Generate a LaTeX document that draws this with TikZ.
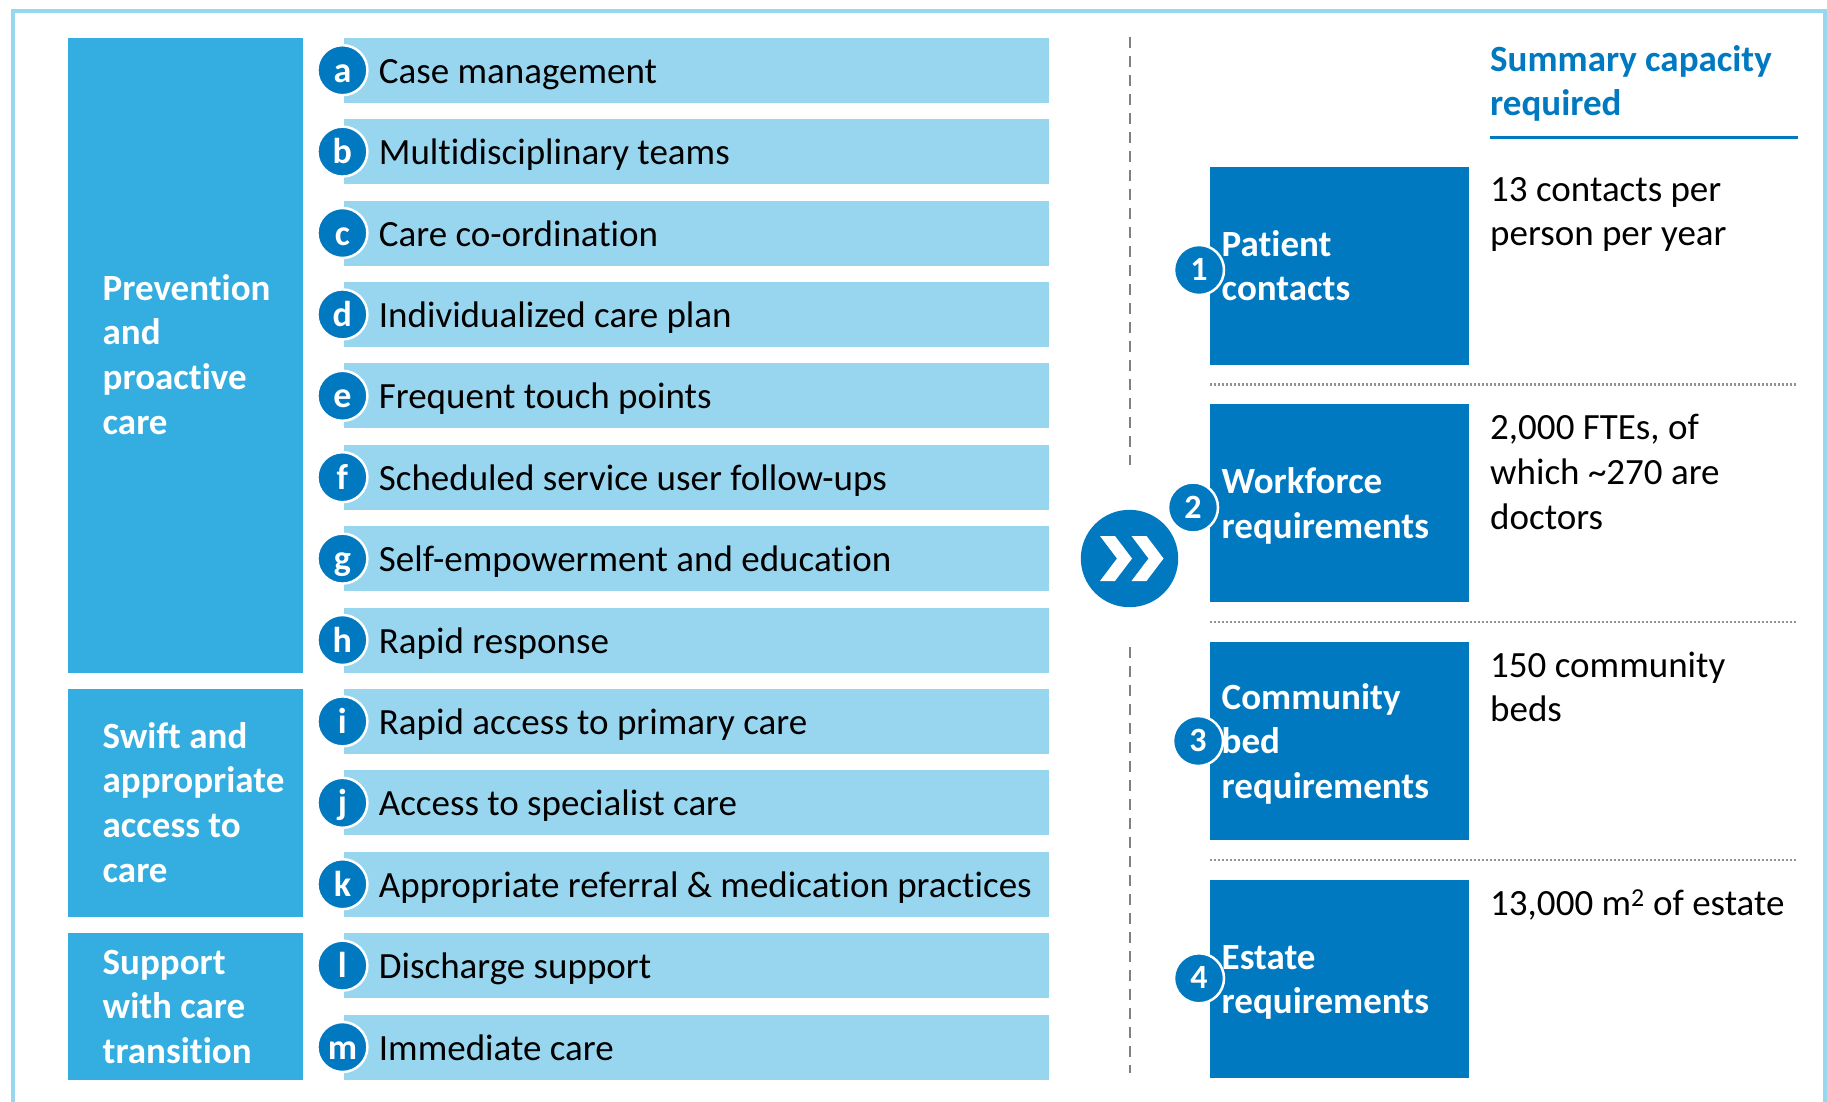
\documentclass[tikz,border=0pt]{standalone}
\usepackage{fontspec}
\setmainfont{Carlito}[Ligatures=NoCommon]
\definecolor{frameblue}{RGB}{152,215,240}
\definecolor{barblue}{RGB}{152,214,240}
\definecolor{catblue}{RGB}{52,173,224}
\definecolor{deepblue}{RGB}{0,121,193}
\definecolor{rulegray}{RGB}{128,128,128}
\newcommand\lnstrut{\rule{0pt}{30pt}}
\begin{document}
\begin{tikzpicture}[x=1pt,y=-1pt,
  bigtext/.style={font=\fontsize{37}{44.7}\selectfont},
  bar/.style={rectangle,fill=barblue,draw=none,inner sep=0pt,minimum width=705pt,minimum height=65pt},
  catbox/.style={rectangle,fill=catblue,draw=none,inner sep=0pt,minimum width=235pt},
  capbox/.style={rectangle,fill=deepblue,draw=none,inner sep=0pt,minimum width=259pt,minimum height=198pt},
  letterdot/.style={circle,fill=deepblue,draw=white,line width=2.5pt,minimum size=50pt,inner sep=0pt,
    text=white,font=\bfseries\fontsize{36}{42}\selectfont,text height=24pt,text depth=0pt},
  numdot/.style={circle,fill=deepblue,draw=white,line width=2.5pt,minimum size=50pt,inner sep=0pt,
    text=white,font=\bfseries\fontsize{34}{40}\selectfont,text height=21pt,text depth=0pt},
  itemtext/.style={bigtext,anchor=base west,inner sep=0pt,text=black},
  whitelabel/.style={font=\bfseries\fontsize{37}{44.7}\selectfont,text=white,anchor=north west,inner sep=0pt,align=left},
  valuetext/.style={bigtext,text=black,anchor=north west,inner sep=0pt,align=left},
  divider/.style={rulegray,line width=2pt,dash pattern=on 11pt off 8pt},
  separator/.style={rulegray!85,line width=2.5pt,dash pattern=on 2pt off 2pt},
]
\useasboundingbox (0,0) rectangle (1827,1102);
\clip (0,0) rectangle (1827,1102);

% outer frame, open at the bottom
\draw[frameblue,line width=4pt] (12.5,1110) -- (12.5,11.3) -- (1824.5,11.3) -- (1824.5,1110);

% category blocks on the left
\node[catbox,minimum height=634.8pt] (cat1) at (185.45,355.1) {};
\node[catbox,minimum height=227.8pt] (cat2) at (185.45,802.8) {};
\node[catbox,minimum height=146.4pt] (cat3) at (185.45,1006.3) {};
\node[whitelabel] (cat1-txt) at (102.5,270) {\lnstrut Prevention\\and\\proactive\\care};
\node[whitelabel] (cat2-txt) at (102.5,718) {\lnstrut Swift and\\appropriate\\access to\\care};
\node[whitelabel] (cat3-txt) at (102.5,944) {\lnstrut Support\\with care\\transition};

% lettered care components
\foreach \l/\t [count=\i from 0] in {
  a/Case management,
  b/Multidisciplinary teams,
  c/Care co-ordination,
  d/Individualized care plan,
  e/Frequent touch points,
  f/Scheduled service user follow-ups,
  g/Self-empowerment and education,
  h/Rapid response,
  i/Rapid access to primary care,
  j/Access to specialist care,
  k/Appropriate referral \& medication practices,
  l/Discharge support,
  m/Immediate care} {
  \pgfmathsetmacro\cy{70.2+81.4*\i}
  \node[bar] (bar-\l) at (696.2,\cy) {};
  \node[letterdot] (dot-\l) at (342.4,\cy) {\l};
  \node[itemtext] (txt-\l) at (378.7,\cy+13) {\t};
}

% divider with the forward marker
\node[circle,fill=deepblue,inner sep=0pt,minimum size=97.4pt] (go) at (1129.5,558.5) {};
\coordinate (div-top) at (1129.5,37);
\coordinate (div-bot) at (1129.5,1073);
\draw[divider] (div-top) -- (go.center |- 0,465);
\draw[divider] (go.center |- 0,647) -- (div-bot);
\fill[white] ([shift={(-29.5,-22.5)}]go.center) -- ++(15,0) -- ++(17,22.5) -- ++(-17,22.5) -- ++(-15,0) -- ++(17,-22.5) -- cycle;
\fill[white] ([shift={(2,-22.5)}]go.center) -- ++(15,0) -- ++(17,22.5) -- ++(-17,22.5) -- ++(-15,0) -- ++(17,-22.5) -- cycle;

% summary heading
\node[font=\bfseries\fontsize{37}{44}\selectfont,text=deepblue,anchor=north west,inner sep=0pt,align=left]
  (head) at (1490,41.5) {\lnstrut Summary capacity\\required};
\coordinate (head-l) at (1490,137.5);
\coordinate (head-r) at (1798,137.5);
\draw[deepblue,line width=2.5pt] (head-l) -- (head-r);

% capacity blocks
\node[capbox] (cap1) at (1339.5,265.6) {};
\node[capbox] (cap2) at (1339.5,503.3) {};
\node[capbox] (cap3) at (1339.5,741.0) {};
\node[capbox] (cap4) at (1339.5,978.7) {};

\node[numdot] (n1) at (1199,270) {1};
\node[numdot] (n2) at (1193,507.5) {2};
\node[numdot] (n3) at (1198,741) {3};
\node[numdot] (n4) at (1199,978.3) {4};

\node[whitelabel] (cap1-txt) at (1221.5,226) {\lnstrut Patient\\contacts};
\node[whitelabel] (cap2-txt) at (1221.5,463.5) {\lnstrut Workforce\\requirements};
\node[whitelabel] (cap3-txt) at (1221.5,678.8) {\lnstrut Community\\bed\\requirements};
\node[whitelabel] (cap4-txt) at (1221.5,938.8) {\lnstrut Estate\\requirements};

\node[valuetext] (val1) at (1490,171) {\lnstrut 13 contacts per\\person per year};
\node[valuetext] (val2) at (1490,409.5) {\lnstrut 2,000 FTEs, of\\which \textasciitilde 270 are\\doctors};
\node[valuetext] (val3) at (1490,647) {\lnstrut 150 community\\beds};
\node[valuetext] (val4) at (1490,885) {\lnstrut 13,000 m\textsuperscript{2} of estate};

% dotted separators between capacity rows
\coordinate (s1l) at (1210,384.5); \coordinate (s1r) at (1796,384.5);
\coordinate (s2l) at (1210,622);   \coordinate (s2r) at (1796,622);
\coordinate (s3l) at (1210,860);   \coordinate (s3r) at (1796,860);
\draw[separator] (s1l) -- (s1r);
\draw[separator] (s2l) -- (s2r);
\draw[separator] (s3l) -- (s3r);
\end{tikzpicture}
\end{document}
